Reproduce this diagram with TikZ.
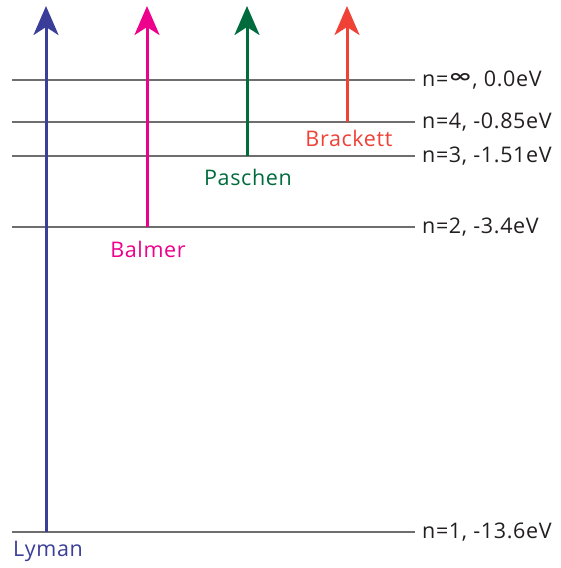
\documentclass[tikz,border=0pt]{standalone}
\usepackage{fontspec}
\usepackage{graphicx}
\setmainfont{Open Sans}[LetterSpace=3]
\newfontfamily\symfont{DejaVu Sans}
\newcommand{\infsym}{\raisebox{3.5pt}{\resizebox{24pt}{9pt}{\symfont\bfseries ∞}}}
\usetikzlibrary{arrows.meta}
\definecolor{lymanc}{HTML}{3A3E98}
\definecolor{balmerc}{HTML}{EC008C}
\definecolor{paschenc}{HTML}{006B3C}
\definecolor{brackettc}{HTML}{EF4136}
\definecolor{levelc}{HTML}{6E6E6E}
\definecolor{textc}{HTML}{231F20}
\begin{document}
\begin{tikzpicture}[x=1pt,y=-1pt,
  level/.style={draw=levelc,line width=2pt},
  levellabel/.style={anchor=west,inner sep=0pt,text=textc,font=\fontsize{21.5}{24}\selectfont},
  series/.style={line width=3pt,-{Stealth[length=29pt,width=25pt,inset=8pt]}},
  serieslabel/.style={inner sep=0pt,font=\fontsize{21.5}{24}\selectfont}]
\useasboundingbox (0,0) rectangle (560,568);
% energy levels
\coordinate (l1a) at (12,532);   \coordinate (l1b) at (415,532);
\coordinate (l2a) at (12,227);   \coordinate (l2b) at (415,227);
\coordinate (l3a) at (12,156);   \coordinate (l3b) at (415,156);
\coordinate (l4a) at (12,122);   \coordinate (l4b) at (415,122);
\coordinate (lia) at (12,80);    \coordinate (lib) at (415,80);
\draw[level] (l1a) -- (l1b);
\draw[level] (l2a) -- (l2b);
\draw[level] (l3a) -- (l3b);
\draw[level] (l4a) -- (l4b);
\draw[level] (lia) -- (lib);
\node[levellabel] (t1) at (422,532) {n=1, -13.6eV};
\node[levellabel] (t2) at (422,227) {n=2, -3.4eV};
\node[levellabel] (t3) at (422,156) {n=3, -1.51eV};
\node[levellabel] (t4) at (422,122) {n=4, -0.85eV};
\node[levellabel,anchor=base west] (ti) at (422,86) {n=\infsym, 0.0eV};
% series transitions
\coordinate (ly0) at (46,532);  \coordinate (ly1) at (46,6);
\coordinate (ba0) at (147,227); \coordinate (ba1) at (147,6);
\coordinate (pa0) at (247,156); \coordinate (pa1) at (247,6);
\coordinate (br0) at (347,122); \coordinate (br1) at (347,6);
\draw[series,lymanc] (ly0) -- (ly1);
\draw[series,balmerc] (ba0) -- (ba1);
\draw[series,paschenc] (pa0) -- (pa1);
\draw[series,brackettc] (br0) -- (br1);
\node[serieslabel,text=lymanc] (lyl) at (48,551) {Lyman};
\node[serieslabel,text=balmerc] (bal) at (148,249) {Balmer};
\node[serieslabel,text=paschenc] (pal) at (248,177) {Paschen};
\node[serieslabel,text=brackettc] (brl) at (349,138) {Brackett};
\end{tikzpicture}
\end{document}
